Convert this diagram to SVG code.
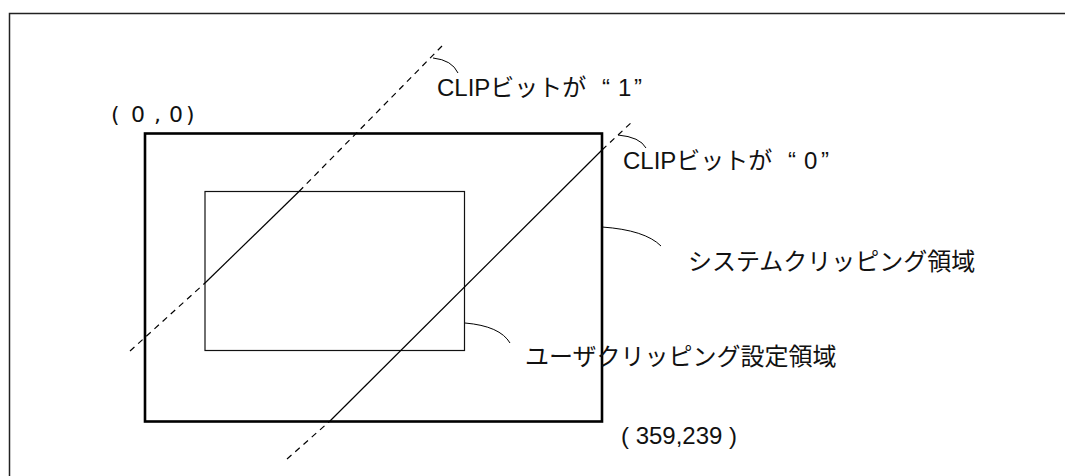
<svg xmlns="http://www.w3.org/2000/svg" width="1065" height="476" viewBox="0 0 1065 476">
<style>
.frame{fill:none;stroke:#222;stroke-width:1.5}
.outer{fill:none;stroke:#000;stroke-width:2.6}
.inner{fill:none;stroke:#111;stroke-width:1.2}
.solid{fill:none;stroke:#000;stroke-width:1.2}
.dash{fill:none;stroke:#000;stroke-width:1.2;stroke-dasharray:6 5}
.lead{fill:none;stroke:#000;stroke-width:1}
.lat{font-family:"Liberation Sans",Arial,sans-serif;font-size:24px;fill:#111}
.jp{font-family:"Noto Sans CJK JP",sans-serif;font-size:24px;fill:#111}
.dv{font-family:"DejaVu Sans",sans-serif;font-size:22px;fill:#111}
</style>
<rect width="1065" height="476" fill="#fff"/>
<path class="frame" d="M9.5,476 V13.5 H1065"/>
<g id="system-area">
<rect class="outer" x="145" y="133.5" width="457" height="288"/>
</g>
<g id="user-area">
<rect class="inner" x="205" y="191.5" width="259.5" height="159"/>
</g>
<g id="connectors">
<path class="dash" d="M130,351 L205,283"/>
<path class="solid" d="M205,283 L299,191.5"/>
<path class="dash" d="M299,191.5 L443,45"/>
<path class="dash" d="M287,459 L330,421"/>
<path class="solid" d="M330,421 L602,150"/>
<path class="dash" d="M602,150 L634,120"/>
<path class="lead" d="M433,58 Q452,60 458,73"/>
<path class="lead" d="M618,135 Q640,137 646,148"/>
<path class="lead" d="M602,227 Q645,230 661,246"/>
<path class="lead" d="M465,323 Q500,326 510,343"/>
</g>
<g id="label-origin">
<text class="dv" y="122"><tspan x="111">(</tspan><tspan x="131">0</tspan><tspan x="154">,</tspan><tspan x="169">0</tspan><tspan x="186">)</tspan></text>
</g>
<g id="label-clip1">
<text class="lat" y="96"><tspan x="437">CLIP</tspan><tspan class="jp">ビットが</tspan><tspan x="602">“</tspan><tspan x="618">1</tspan><tspan x="634">”</tspan></text>
</g>
<g id="label-clip0">
<text class="lat" y="169"><tspan x="623">CLIP</tspan><tspan class="jp">ビットが</tspan><tspan x="788">“</tspan><tspan x="804">0</tspan><tspan x="821">”</tspan></text>
</g>
<g id="label-system">
<text class="jp" x="688" y="270">システムクリッピング領域</text>
</g>
<g id="label-user">
<text class="jp" x="525" y="365">ユーザクリッピング設定領域</text>
</g>
<g id="label-end">
<text class="lat" x="621" y="444">( 359,239 )</text>
</g>
</svg>
